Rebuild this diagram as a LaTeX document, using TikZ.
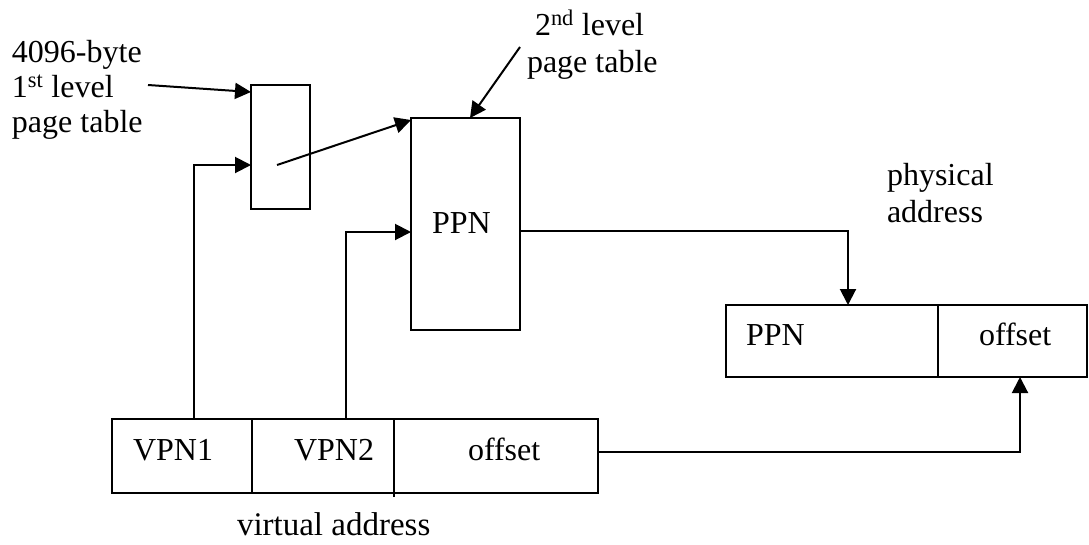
\documentclass[tikz,border=0pt]{standalone}
\usepackage{fontspec}
\setmainfont{Liberation Serif}
\usetikzlibrary{arrows.meta}
\begin{document}
\begin{tikzpicture}[x=1pt,y=-1pt,
  box/.style={draw,line width=2pt,inner sep=0pt,outer sep=0pt},
  txt/.style={anchor=base west,inner sep=0pt,outer sep=0pt,font=\fontsize{32}{38}\selectfont},
  arr/.style={line width=2pt,-{Triangle[length=16pt,width=16pt]}},
  ln/.style={line width=2pt}]
\useasboundingbox (0,0) rectangle (1089,544);
% tables
\node[box,minimum width=59pt,minimum height=124pt] (t1) at (280.5,147) {};
\node[box,minimum width=109pt,minimum height=212pt] (t2) at (465.5,224) {};
% physical address
\node[box,minimum width=212pt,minimum height=72pt] (ppn) at (832,341) {};
\node[box,minimum width=149pt,minimum height=72pt] (poff) at (1012.5,341) {};
% virtual address
\node[box,minimum width=140pt,minimum height=74pt] (v1) at (182,456) {};
\node[box,minimum width=142pt,minimum height=74pt] (v2) at (323,456) {};
\node[box,minimum width=204pt,minimum height=74pt] (v3) at (496,456) {};
\draw[ln] (v3.south west) -- ([yshift=-4pt]v3.south west);
% texts
\node[txt] (l1a) at (12,62) {4096-byte};
\node[txt] (l1b) at (12,97) {1\textsuperscript{st} level};
\node[txt] (l1c) at (12,132) {page table};
\node[txt] (l2a) at (535,35) {2\textsuperscript{nd} level};
\node[txt] (l2b) at (527,72) {page table};
\node[txt] (t2txt) at (432,233) {PPN};
\node[txt] (pha) at (887,185) {physical};
\node[txt] (phb) at (887,222) {address};
\node[txt] (ppntxt) at (746,345) {PPN};
\node[txt] (pofftxt) at (979,345) {offset};
\node[txt] (v1txt) at (133,460) {VPN1};
\node[txt] (v2txt) at (294,460) {VPN2};
\node[txt] (v3txt) at (468,460) {offset};
\node[txt,font=\fontsize{33}{40}\selectfont] (vlab) at (237,535) {virtual address};
% label arrows
\coordinate (s1) at (148,85);
\coordinate (s2) at (520,47);
\draw[arr] (s1) -- ([yshift=-7pt]t1.north west);
\draw[arr] (s2) -- ([xshift=4.5pt]t2.north);
% connectors
\draw[arr] ([xshift=12pt]v1.north) |- ([yshift=-18pt]t1.west);
\draw[arr] ([xshift=-3.5pt,yshift=-18pt]t1.center) -- ([yshift=-2pt]t2.north west);
\draw[arr] ([xshift=23pt]v2.north) |- ([yshift=-8pt]t2.west);
\draw[arr] ([yshift=-7pt]t2.east) -| ([xshift=16pt]ppn.north);
\draw[arr] ([yshift=4pt]v3.east) -| ([xshift=7.5pt]poff.south);
\end{tikzpicture}
\end{document}
